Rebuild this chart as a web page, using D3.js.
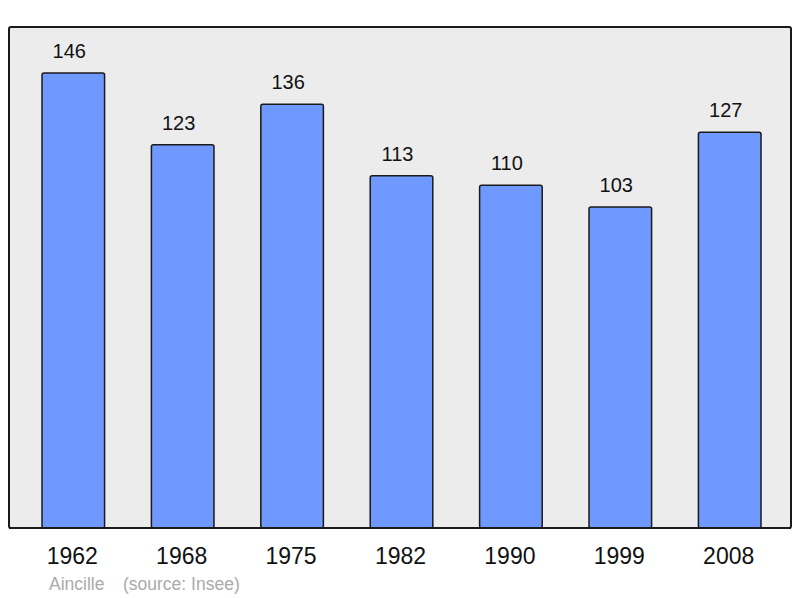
<!DOCTYPE html>
<html>
<head>
<meta charset="utf-8">
<style>
  body { margin: 0; background: #fff; }
  text { font-family: "Liberation Sans", Arial, sans-serif; }
</style>
</head>
<body>
<svg width="800" height="598"></svg>
<script src="https://d3js.org/d3.v7.min.js"></script>
<script>

// Population by census year
var years = ["1962", "1968", "1975", "1982", "1990", "1999", "2008"];
var population = [146, 123, 136, 113, 110, 103, 127];
var commune = "Aincille";
var source = "(source: Insee)";

var svg = d3.select("svg");

// panel
svg.append("rect")
    .attr("x", 9).attr("y", 27)
    .attr("width", 782).attr("height", 501)
    .attr("rx", 2)
    .attr("fill", "#ececec")
    .attr("stroke", "#1a1a1a")
    .attr("stroke-width", 2);

var x = d3.scaleBand()
    .domain(years)
    .range([42, 761])
    .paddingInner(0.428)
    .paddingOuter(0);

var y = d3.scaleLinear()
    .domain([0, 146])
    .range([528, 73]);

var data = years.map(function(d, i) { return { year: d, value: population[i] }; });

// bars
svg.selectAll("rect.bar")
  .data(data)
  .enter().append("rect")
    .attr("class", "bar")
    .attr("x", function(d) { return x(d.year); })
    .attr("y", function(d) { return y(d.value); })
    .attr("width", x.bandwidth())
    .attr("height", function(d) { return y(0) - y(d.value); })
    .attr("rx", 2)
    .attr("fill", "#7099ff")
    .attr("stroke", "#1a1a1a")
    .attr("stroke-width", 1.5);

// value labels (sit a little left of bar centre, like the original)
svg.selectAll("text.value")
  .data(data)
  .enter().append("text")
    .attr("class", "value")
    .attr("x", function(d) { return x(d.year) + x.bandwidth() / 2 - 4; })
    .attr("y", function(d) { return y(d.value) - 15; })
    .attr("text-anchor", "middle")
    .attr("font-size", 20)
    .attr("fill", "#111")
    .text(function(d) { return d.value; });

// redraw panel bottom edge over bars
svg.append("line")
    .attr("x1", 9).attr("x2", 791)
    .attr("y1", 528).attr("y2", 528)
    .attr("stroke", "#1a1a1a")
    .attr("stroke-width", 2);

// year labels
svg.selectAll("text.year")
  .data(years)
  .enter().append("text")
    .attr("class", "year")
    .attr("x", function(d) { return x(d) + x.bandwidth() / 2 - 1; })
    .attr("y", 564)
    .attr("text-anchor", "middle")
    .attr("font-size", 23)
    .attr("fill", "#111")
    .text(function(d) { return d; });

// footer
svg.append("text")
    .attr("x", 49).attr("y", 590)
    .attr("font-size", 17.5)
    .attr("fill", "#aaa")
    .text(commune);

svg.append("text")
    .attr("x", 123).attr("y", 590)
    .attr("font-size", 17.5)
    .attr("fill", "#aaa")
    .text(source);

</script>
</body>
</html>
